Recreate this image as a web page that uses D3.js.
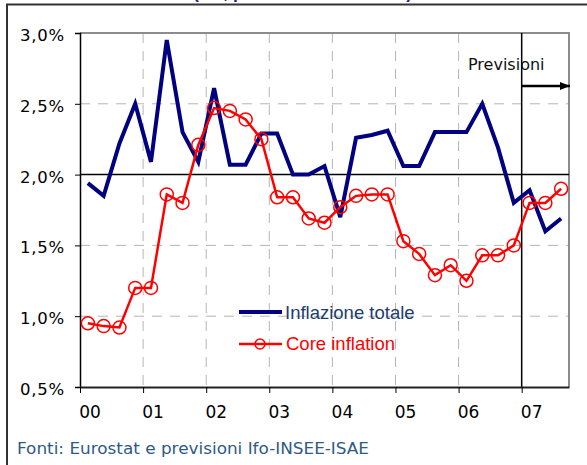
<!DOCTYPE html>
<html>
<head>
<meta charset="utf-8">
<script src="https://cdn.jsdelivr.net/npm/d3@7"></script>
<style>
  body { margin: 0; background: #fff; }
  svg { display: block; }
</style>
</head>
<body>
<script>
  // quarterly data 2000Q1 .. 2007Q3 (last quarters are forecasts)
  var years = ["00", "01", "02", "03", "04", "05", "06", "07"];
  var inflazioneTotale = [1.94, 1.85, 2.22, 2.50, 2.09, 2.95, 2.30, 2.09,
    2.61, 2.07, 2.07, 2.29, 2.29, 2.00, 2.00, 2.06,
    1.70, 2.26, 2.28, 2.31, 2.06, 2.06, 2.30, 2.30,
    2.30, 2.50, 2.19, 1.80, 1.89, 1.60, 1.69];
  var coreInflation = [0.95, 0.93, 0.92, 1.20, 1.20, 1.86, 1.80, 2.21,
    2.47, 2.45, 2.39, 2.25, 1.84, 1.84, 1.69, 1.66,
    1.77, 1.85, 1.86, 1.86, 1.53, 1.44, 1.29, 1.36,
    1.25, 1.43, 1.43, 1.50, 1.80, 1.80, 1.90];
  var yTicks = [0.5, 1.0, 1.5, 2.0, 2.5, 3.0];
  var forecastStart = 28; // 2007Q1

  var width = 587, height = 465;
  var plotLeft = 80, plotRight = 569, plotTop = 33, plotBottom = 387;

  var svg = d3.select("body").append("svg")
    .attr("width", width)
    .attr("height", height);

  // outer frame
  svg.append("path")
    .attr("d", "M7,470 L7,4.5 L600,4.5")
    .attr("fill", "none")
    .attr("stroke", "#333")
    .attr("stroke-width", 2);

  // clipped title at the very top (only its lower edge shows)
  svg.append("text")
    .attr("x", 193).attr("y", -2.5)
    .attr("textLength", 219).attr("lengthAdjust", "spacingAndGlyphs")
    .attr("font-family", "Liberation Sans, Arial, sans-serif")
    .attr("font-weight", "bold")
    .attr("font-size", 18)
    .attr("fill", "#1a2a8c")
    .text("(a/a, prezzi al consumo %)");

  var x = d3.scaleLinear().domain([0, inflazioneTotale.length]).range([plotLeft, plotRight]);
  var y = d3.scaleLinear().domain([0.5, 3.0]).range([plotBottom, plotTop]);

  // grid
  var grid = svg.append("g");
  grid.selectAll("line.h")
    .data(yTicks.filter(function(d) { return d > 0.5 && d < 3.0 && d !== 2.0; }))
    .enter().append("line")
    .attr("x1", plotLeft).attr("x2", plotRight)
    .attr("y1", function(d) { return y(d); })
    .attr("y2", function(d) { return y(d); })
    .attr("stroke", "#b4b4b4")
    .attr("stroke-dasharray", "10,8");
  grid.selectAll("line.v")
    .data(d3.range(1, years.length - 1))
    .enter().append("line")
    .attr("x1", function(d) { return x(d * 4); })
    .attr("x2", function(d) { return x(d * 4); })
    .attr("y1", plotTop).attr("y2", plotBottom)
    .attr("stroke", "#b4b4b4")
    .attr("stroke-dasharray", "10,8");

  // plot frame top / right
  svg.append("path")
    .attr("d", "M" + plotLeft + "," + plotTop + "L" + plotRight + "," + plotTop + "L" + plotRight + "," + plotBottom)
    .attr("fill", "none")
    .attr("stroke", "#8c8c8c")
    .attr("stroke-width", 2);

  // 2% reference line
  svg.append("line")
    .attr("x1", plotLeft).attr("x2", plotRight)
    .attr("y1", y(2.0)).attr("y2", y(2.0))
    .attr("stroke", "#000").attr("stroke-width", 1.5);

  // forecast separator
  svg.append("line")
    .attr("x1", x(forecastStart)).attr("x2", x(forecastStart))
    .attr("y1", plotTop).attr("y2", plotBottom)
    .attr("stroke", "#000").attr("stroke-width", 1.5);

  // axes
  var yAxis = d3.axisLeft(y)
    .tickValues(yTicks)
    .tickSize(5)
    .tickPadding(10)
    .tickFormat(function(d) { return d3.format(".1f")(d).replace(".", ",") + "%"; });
  var gy = svg.append("g")
    .attr("transform", "translate(" + plotLeft + ",0)")
    .call(yAxis);
  gy.select(".domain").attr("stroke", "#000").attr("stroke-width", 1.5);
  gy.selectAll("line").attr("stroke", "#000");
  gy.selectAll("text")
    .attr("dy", 7.5)
    .attr("font-family", "DejaVu Sans, Verdana, sans-serif")
    .attr("font-size", 16.5)
    .attr("letter-spacing", 0.8)
    .attr("fill", "#000");

  var xAxis = d3.axisBottom(x)
    .tickValues(d3.range(0, years.length).map(function(d) { return d * 4; }))
    .tickSize(6)
    .tickSizeOuter(0)
    .tickPadding(13)
    .tickFormat(function(d) { return years[d / 4]; });
  var gx = svg.append("g")
    .attr("transform", "translate(0," + plotBottom + ")")
    .call(xAxis);
  gx.select(".domain").attr("stroke", "#222").attr("stroke-width", 2);
  gx.selectAll("line").attr("stroke", "#000");
  gx.selectAll("text")
    .attr("x", 9.5)
    .attr("font-family", "DejaVu Sans, Verdana, sans-serif")
    .attr("font-size", 17)
    .attr("fill", "#000");

  // lines
  var line = d3.line()
    .x(function(d, i) { return x(i + 0.5); })
    .y(function(d) { return y(d); });

  svg.append("path")
    .datum(inflazioneTotale)
    .attr("d", line)
    .attr("fill", "none")
    .attr("stroke", "#000080")
    .attr("stroke-width", 4)
    .attr("stroke-linejoin", "miter");

  svg.append("path")
    .datum(coreInflation)
    .attr("d", line)
    .attr("fill", "none")
    .attr("stroke", "#ff0000")
    .attr("stroke-width", 2.5);

  svg.selectAll("circle.core")
    .data(coreInflation)
    .enter().append("circle")
    .attr("cx", function(d, i) { return x(i + 0.5); })
    .attr("cy", function(d) { return y(d); })
    .attr("r", 6.5)
    .attr("fill", "none")
    .attr("stroke", "#ff0000")
    .attr("stroke-width", 1.5);

  // Previsioni label and arrow
  svg.append("defs").append("marker")
    .attr("id", "arrow")
    .attr("viewBox", "0 0 10 8")
    .attr("refX", 10).attr("refY", 4)
    .attr("markerWidth", 10).attr("markerHeight", 8)
    .attr("markerUnits", "userSpaceOnUse")
    .attr("orient", "auto")
    .append("path").attr("d", "M0,0 L10,4 L0,8 Z").attr("fill", "#000");

  svg.append("line")
    .attr("x1", x(forecastStart)).attr("x2", plotRight + 1)
    .attr("y1", 86).attr("y2", 86)
    .attr("stroke", "#000").attr("stroke-width", 2.5)
    .attr("marker-end", "url(#arrow)");

  svg.append("text")
    .attr("x", 468).attr("y", 70)
    .attr("font-family", "DejaVu Sans, Verdana, sans-serif")
    .attr("font-size", 16)
    .attr("fill", "#111")
    .text("Previsioni");

  // legend
  var legend = svg.append("g");
  legend.append("line")
    .attr("x1", 239).attr("x2", 282).attr("y1", 312).attr("y2", 312)
    .attr("stroke", "#000080").attr("stroke-width", 4);
  legend.append("text")
    .attr("x", 285).attr("y", 318.5)
    .attr("font-family", "Liberation Sans, Arial, sans-serif")
    .attr("font-size", 18.5)
    .attr("fill", "#1c3c6e")
    .text("Inflazione totale");
  legend.append("line")
    .attr("x1", 239).attr("x2", 282).attr("y1", 344).attr("y2", 344)
    .attr("stroke", "#ff0000").attr("stroke-width", 2.5);
  legend.append("circle")
    .attr("cx", 260).attr("cy", 344).attr("r", 5)
    .attr("fill", "none").attr("stroke", "#ff0000").attr("stroke-width", 1.5);
  legend.append("text")
    .attr("x", 286).attr("y", 349.5)
    .attr("font-family", "Liberation Sans, Arial, sans-serif")
    .attr("font-size", 18.5)
    .attr("fill", "#ff0000")
    .text("Core inflation");

  // source note
  svg.append("text")
    .attr("x", 17).attr("y", 454)
    .attr("textLength", 352).attr("lengthAdjust", "spacingAndGlyphs")
    .attr("font-family", "DejaVu Sans, Verdana, sans-serif")
    .attr("font-size", 15)
    .attr("fill", "#2e5a88")
    .text("Fonti: Eurostat e previsioni Ifo-INSEE-ISAE");
</script>
</body>
</html>
